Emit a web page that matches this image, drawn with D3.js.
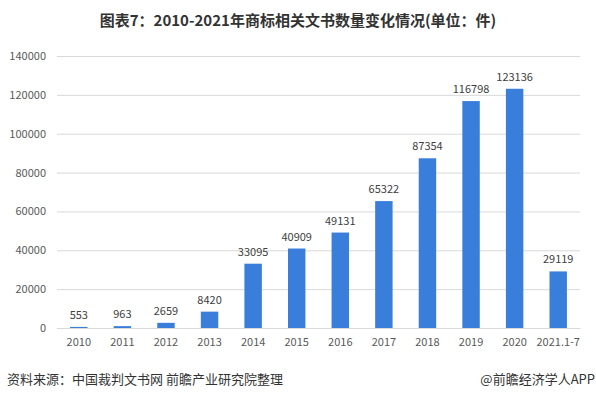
<!DOCTYPE html>
<html><head><meta charset="utf-8">
<script src="https://cdn.jsdelivr.net/npm/d3@7"></script>
<style>body{margin:0;background:#fff}svg{display:block}</style>
</head><body>
<script>
const categories = ["2010","2011","2012","2013","2014","2015","2016","2017","2018","2019","2020","2021.1-7"];
const values = [553,963,2659,8420,33095,40909,49131,65322,87354,116798,123136,29119];
const yTicks = [0,20000,40000,60000,80000,100000,120000,140000];
const title = "图表7：2010-2021年商标相关文书数量变化情况(单位：件)";
const source = "资料来源：中国裁判文书网 前瞻产业研究院整理";
const credit = "@前瞻经济学人APP";

const W=596,H=399;
const svg=d3.select("body").append("svg").attr("width",W).attr("height",H);
const font="'Microsoft YaHei','Noto Sans CJK SC',sans-serif";
const x=d3.scaleBand().domain(categories).range([57,580]).paddingInner(0.6).paddingOuter(0.3);
const y=d3.scaleLinear().domain([0,140000]).range([328,56]);

svg.append("text").attr("x",W/2).attr("y",26).attr("text-anchor","middle")
  .attr("font-family",font).attr("font-weight","bold").attr("font-size",15).attr("fill","#333").text(title);

const ya=svg.append("g").attr("transform","translate(57,0)")
  .call(d3.axisLeft(y).tickValues(yTicks).tickSize(-523).tickFormat(d3.format("d")));
ya.select(".domain").remove();
ya.selectAll("line").attr("stroke","#d9d9d9");
ya.selectAll("text").attr("x",-11).attr("fill","#595959").attr("font-size",11).attr("font-family",font);

svg.append("g").selectAll("rect").data(values).join("rect")
  .attr("x",(d,i)=>x(categories[i])).attr("width",x.bandwidth())
  .attr("y",d=>y(d)).attr("height",d=>y(0)-y(d)).attr("fill","#3a7edb");

svg.append("g").selectAll("text").data(values).join("text")
  .attr("x",(d,i)=>x(categories[i])+x.bandwidth()/2).attr("y",d=>y(d)-8)
  .attr("text-anchor","middle").attr("font-size",11).attr("fill","#404040").attr("font-family",font)
  .text(d=>d);

const xa=svg.append("g").attr("transform","translate(0,328)")
  .call(d3.axisBottom(x).tickSize(0).tickPadding(10));
xa.select(".domain").attr("stroke","#d9d9d9");
xa.selectAll("text").attr("fill","#595959").attr("font-size",11).attr("font-family",font);

svg.append("text").attr("x",7).attr("y",384).attr("font-family",font).attr("font-size",13).attr("fill","#333").text(source);
svg.append("text").attr("x",595).attr("y",384).attr("text-anchor","end").attr("font-family",font).attr("font-size",13).attr("fill","#333").text(credit);
</script>
</body></html>
